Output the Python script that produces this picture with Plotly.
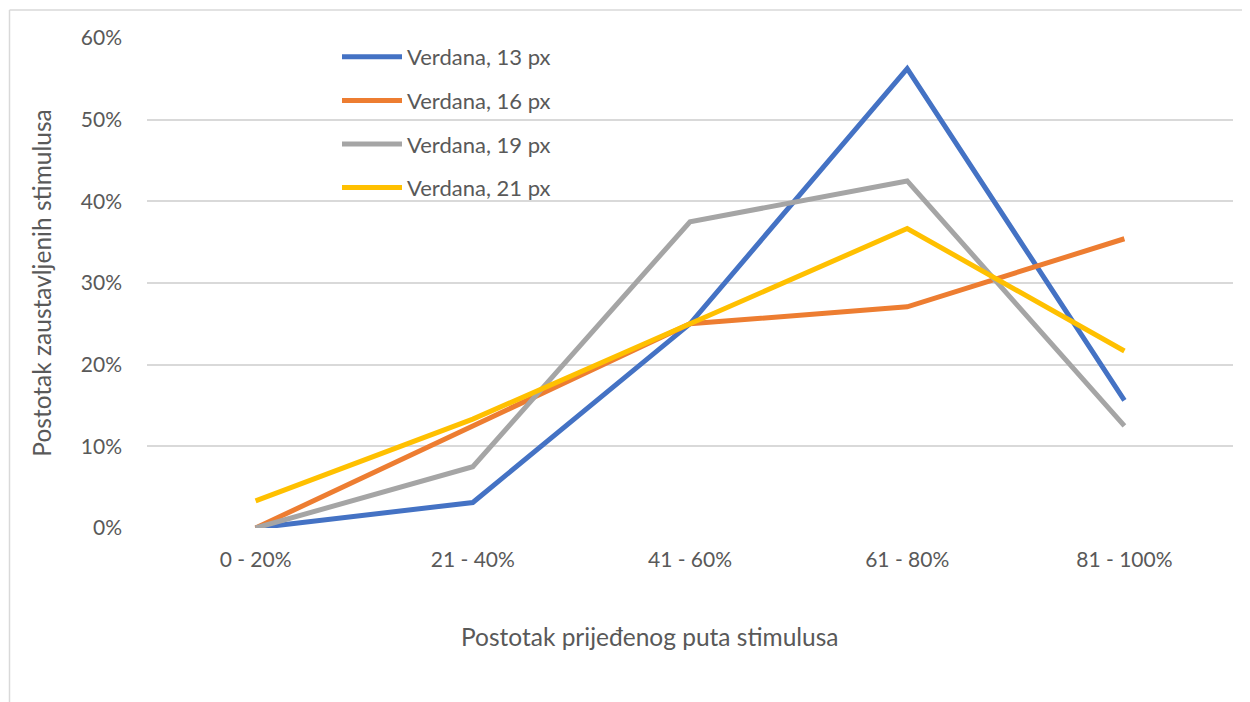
import plotly.graph_objects as go

categories = ["0 - 20%", "21 - 40%", "41 - 60%", "61 - 80%", "81 - 100%"]
series_names = ["Verdana, 13 px", "Verdana, 16 px", "Verdana, 19 px", "Verdana, 21 px"]
v13 = [0.0, 0.03125, 0.25, 0.5625, 0.15625]
v16 = [0.0, 0.125, 0.25, 0.2708, 0.3542]
v19 = [0.0, 0.075, 0.375, 0.425, 0.125]
v21 = [0.0333, 0.1333, 0.25, 0.3667, 0.2167]
colors = ["#4472C4", "#ED7D31", "#A5A5A5", "#FFC000"]
x_title = "Postotak prijeđenog puta stimulusa"
y_title = "Postotak zaustavljenih stimulusa"

FONT = "Lato"
TXT = "#595959"

fig = go.Figure()
for i, (name, vals) in enumerate(zip(series_names, [v13, v16, v19, v21])):
    fig.add_trace(go.Scatter(
        x=categories, y=vals, name=name, mode="lines",
        line=dict(color=colors[i], width=5),
        legendgroup=f"g{i}",
    ))

OFF = 8  # page body margin
L, R, T, B = 147 - OFF, 17, 38 - OFF, 174
W, H = 1250 - OFF, 702 - OFF
pw, ph = W - L - R, H - T - B

def px_x(x):
    return (x - OFF - L) / pw

def px_y(y):
    return (H - B - (y - OFF)) / ph

fig.update_layout(
    width=W, height=H,
    margin=dict(l=L, r=R, t=T, b=B, pad=0),
    paper_bgcolor="white", plot_bgcolor="white",
    font=dict(family=FONT, size=21, color=TXT),
    showlegend=True,
    legend=dict(
        x=px_x(337), y=px_y(36), xanchor="left", yanchor="top",
        bgcolor="rgba(0,0,0,0)", itemwidth=60,
        tracegroupgap=12, font=dict(size=22, color=TXT),
    ),
    xaxis=dict(
        type="category", range=[-0.5, 4.5], showgrid=False, zeroline=False,
        showline=False, ticks="", ticklabelstandoff=17,
        tickfont=dict(size=21, color=TXT),
    ),
    yaxis=dict(
        range=[0, 0.6], dtick=0.1, tickformat=".0%", showgrid=True,
        gridcolor="#D9D9D9", gridwidth=1.5, zeroline=False, showline=False,
        ticks="", ticklabelstandoff=24,
        title=dict(text=y_title, standoff=22,
                   font=dict(size=24.5, color=TXT)),
        tickfont=dict(size=21, color=TXT),
    ),
    annotations=[
        dict(text=x_title, xref="paper", yref="paper", x=px_x(650), y=px_y(636),
             xanchor="center", yanchor="middle", showarrow=False,
             font=dict(size=24.5, color=TXT, family=FONT)),
    ],
    shapes=[
        dict(type="line", xref="paper", yref="paper", x0=px_x(9.5), x1=px_x(9.5),
             y0=px_y(720), y1=px_y(10), line=dict(color="#D9D9D9", width=1.5), layer="below"),
        dict(type="line", xref="paper", yref="paper", x0=px_x(9.5), x1=px_x(1270),
             y0=px_y(10), y1=px_y(10), line=dict(color="#D9D9D9", width=1.5), layer="below"),
    ],
)

fig.write_html("out.html")
